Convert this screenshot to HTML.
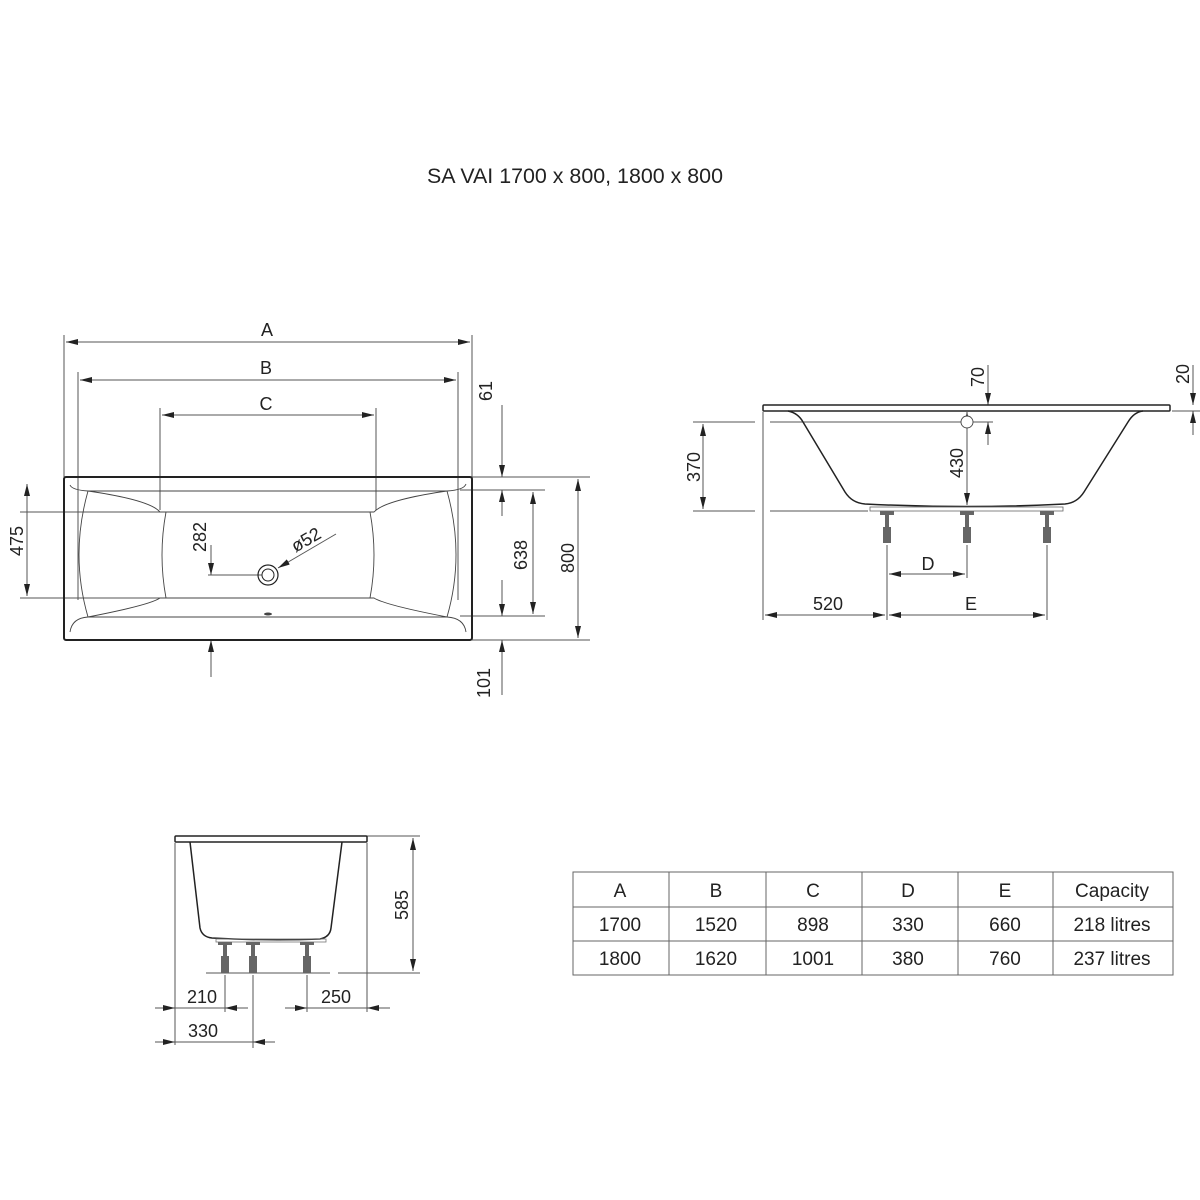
<!DOCTYPE html>
<html><head><meta charset="utf-8"><style>
html,body{margin:0;padding:0;background:#fff}
svg{display:block}
text{font-family:"Liberation Sans",sans-serif;fill:#222}
</style></head><body>
<svg width="1200" height="1200" viewBox="0 0 1200 1200" xmlns="http://www.w3.org/2000/svg">
<defs>
<marker id="a" viewBox="0 0 12 6" refX="12" refY="3" markerWidth="12" markerHeight="6" markerUnits="userSpaceOnUse" orient="auto"><path d="M0,0L12,3L0,6z" fill="#222"/></marker>
<marker id="s" viewBox="0 0 12 6" refX="0" refY="3" markerWidth="12" markerHeight="6" markerUnits="userSpaceOnUse" orient="auto"><path d="M12,0L0,3L12,6z" fill="#222"/></marker>
</defs>
<text x="575" y="183" font-size="21" text-anchor="middle" textLength="296" lengthAdjust="spacingAndGlyphs">SA VAI  1700 x 800, 1800 x 800</text>

<!-- PLAN VIEW -->
<g stroke="#555" stroke-width="1" fill="none">
<line x1="64" y1="335" x2="64" y2="477"/><line x1="472" y1="335" x2="472" y2="477"/>
<line x1="78" y1="372" x2="78" y2="600"/><line x1="458" y1="372" x2="458" y2="600"/>
<line x1="160" y1="408" x2="160" y2="510"/><line x1="376" y1="408" x2="376" y2="510"/>
<line x1="66" y1="342" x2="470" y2="342" marker-start="url(#s)" marker-end="url(#a)"/>
<line x1="80" y1="380" x2="456" y2="380" marker-start="url(#s)" marker-end="url(#a)"/>
<line x1="162" y1="415" x2="374" y2="415" marker-start="url(#s)" marker-end="url(#a)"/>
<line x1="20" y1="512" x2="160" y2="512"/><line x1="20" y1="598" x2="160" y2="598"/>
<line x1="27" y1="484" x2="27" y2="596" marker-start="url(#s)" marker-end="url(#a)"/>
<line x1="472" y1="477" x2="590" y2="477"/><line x1="472" y1="640" x2="590" y2="640"/>
<line x1="460" y1="490" x2="545" y2="490"/><line x1="460" y1="616" x2="545" y2="616"/>
<line x1="578" y1="479" x2="578" y2="638" marker-start="url(#s)" marker-end="url(#a)"/>
<line x1="533" y1="492" x2="533" y2="614" marker-start="url(#s)" marker-end="url(#a)"/>
<line x1="502" y1="405" x2="502" y2="477" marker-end="url(#a)"/>
<line x1="502" y1="516" x2="502" y2="490" marker-end="url(#a)"/>
<line x1="502" y1="580" x2="502" y2="616" marker-end="url(#a)"/>
<line x1="502" y1="695" x2="502" y2="640" marker-end="url(#a)"/>
<line x1="211" y1="545" x2="211" y2="575" marker-end="url(#a)"/>
<line x1="211" y1="677" x2="211" y2="640" marker-end="url(#a)"/>
<line x1="208" y1="575" x2="262" y2="575"/>
<line x1="336" y1="534" x2="278" y2="568" marker-end="url(#a)"/>
</g>
<g fill="none" stroke="#222">
<rect x="64" y="477" width="408" height="163" rx="2" stroke-width="2"/>
<g stroke-width="0.9" stroke="#444">
<path d="M70,485 Q72,490 88,491 L447,491 Q464,490 466,484"/>
<path d="M70,632 Q72,618 88,617 L447,617 Q464,618 466,632"/>
<path d="M88,491 Q150,500 160,512 L374,512 Q385,500 447,491"/>
<path d="M88,617 Q150,605 160,598 L374,598 Q385,605 447,617"/>
<path d="M88,491 Q70,555 88,617"/><path d="M447,491 Q465,555 447,617"/>
<path d="M166,512 Q158,555 166,598"/><path d="M370,512 Q378,555 370,598"/>
</g>
<circle cx="268" cy="575" r="10" stroke-width="1.2"/><circle cx="268" cy="575" r="6" stroke-width="1"/>
<ellipse cx="268" cy="614" rx="4" ry="1.5" fill="#444" stroke="none"/>
</g>
<g font-size="18" text-anchor="middle">
<text x="267" y="336">A</text><text x="266" y="374">B</text><text x="266" y="410">C</text>
<text transform="translate(23,541) rotate(-90)">475</text>
<text transform="translate(206,537) rotate(-90)">282</text>
<text transform="translate(309,545) rotate(-30)">ø52</text>
<text transform="translate(492,391) rotate(-90)">61</text>
<text transform="translate(527,555) rotate(-90)">638</text>
<text transform="translate(574,558) rotate(-90)">800</text>
<text transform="translate(490,683) rotate(-90)">101</text>
</g>

<!-- SIDE VIEW -->
<g stroke="#555" stroke-width="1" fill="none">
<line x1="763" y1="412" x2="763" y2="620"/>
<line x1="693" y1="422" x2="755" y2="422"/><line x1="770" y1="422" x2="993" y2="422"/>
<line x1="693" y1="511" x2="755" y2="511"/><line x1="770" y1="511" x2="868" y2="511"/>
<line x1="703" y1="424" x2="703" y2="509" marker-start="url(#s)" marker-end="url(#a)"/>
<line x1="967" y1="412" x2="967" y2="505" marker-start="url(#s)" marker-end="url(#a)"/>
<line x1="988" y1="365" x2="988" y2="405" marker-end="url(#a)"/>
<line x1="988" y1="445" x2="988" y2="422" marker-end="url(#a)"/>
<line x1="1172" y1="411" x2="1200" y2="411"/>
<line x1="1193" y1="365" x2="1193" y2="405" marker-end="url(#a)"/>
<line x1="1193" y1="435" x2="1193" y2="411" marker-end="url(#a)"/>
<line x1="887" y1="545" x2="887" y2="620"/><line x1="967" y1="545" x2="967" y2="578"/><line x1="1047" y1="545" x2="1047" y2="620"/>
<line x1="889" y1="574" x2="965" y2="574" marker-start="url(#s)" marker-end="url(#a)"/>
<line x1="765" y1="615" x2="885" y2="615" marker-start="url(#s)" marker-end="url(#a)"/>
<line x1="889" y1="615" x2="1045" y2="615" marker-start="url(#s)" marker-end="url(#a)"/>
</g>
<g fill="none" stroke="#222" stroke-width="1.5">
<rect x="763" y="405" width="407" height="6" rx="1"/>
<path d="M788,411 Q798,413 803,422 L845,492 Q852,503 865,504 Q967,509 1065,504 Q1077,503 1084,492 L1128,422 Q1134,412 1143,411"/>
<rect x="870" y="507" width="193" height="4" stroke-width="0.8" stroke="#666"/>
<circle cx="967" cy="422" r="6" stroke-width="0.9" stroke="#444" fill="#fff"/>
</g>
<g fill="#666">
<g transform="translate(887,0)"><rect x="-7" y="511" width="14" height="4"/><rect x="-2" y="515" width="4" height="12"/><rect x="-4" y="527" width="8" height="16"/></g>
<g transform="translate(967,0)"><rect x="-7" y="511" width="14" height="4"/><rect x="-2" y="515" width="4" height="12"/><rect x="-4" y="527" width="8" height="16"/></g>
<g transform="translate(1047,0)"><rect x="-7" y="511" width="14" height="4"/><rect x="-2" y="515" width="4" height="12"/><rect x="-4" y="527" width="8" height="16"/></g>
</g>
<g font-size="18" text-anchor="middle">
<text transform="translate(700,467) rotate(-90)">370</text>
<text transform="translate(963,463) rotate(-90)">430</text>
<text transform="translate(984,377) rotate(-90)">70</text>
<text transform="translate(1189,374) rotate(-90)">20</text>
<text x="928" y="570">D</text><text x="828" y="610">520</text><text x="971" y="610">E</text>
</g>

<!-- END VIEW -->
<g stroke="#555" stroke-width="1" fill="none">
<line x1="175" y1="843" x2="175" y2="1045"/><line x1="367" y1="843" x2="367" y2="1012"/>
<line x1="367" y1="836" x2="420" y2="836"/>
<line x1="206" y1="973" x2="330" y2="973"/><line x1="338" y1="973" x2="420" y2="973"/>
<line x1="413" y1="838" x2="413" y2="971" marker-start="url(#s)" marker-end="url(#a)"/>
<line x1="225" y1="975" x2="225" y2="1012"/><line x1="253" y1="975" x2="253" y2="1048"/><line x1="307" y1="975" x2="307" y2="1012"/>
<line x1="155" y1="1008" x2="175" y2="1008" marker-end="url(#a)"/>
<line x1="175" y1="1008" x2="225" y2="1008"/>
<line x1="248" y1="1008" x2="225" y2="1008" marker-end="url(#a)"/>
<line x1="285" y1="1008" x2="307" y2="1008" marker-end="url(#a)"/>
<line x1="307" y1="1008" x2="367" y2="1008"/>
<line x1="390" y1="1008" x2="367" y2="1008" marker-end="url(#a)"/>
<line x1="155" y1="1042" x2="175" y2="1042" marker-end="url(#a)"/>
<line x1="175" y1="1042" x2="253" y2="1042"/>
<line x1="275" y1="1042" x2="253" y2="1042" marker-end="url(#a)"/>
</g>
<g fill="none" stroke="#222" stroke-width="1.5">
<rect x="175" y="836" width="192" height="6" rx="1"/>
<path d="M190,842 L200,928 Q202,937 212,938 Q268,941 320,939 Q330,937 331,928 L342,842"/>
<rect x="216" y="939" width="110" height="3" stroke-width="0.8" stroke="#777"/>
</g>
<g fill="#666">
<g transform="translate(225,0)"><rect x="-7" y="942" width="14" height="3"/><rect x="-2" y="945" width="4" height="11"/><rect x="-4" y="956" width="8" height="17"/></g>
<g transform="translate(253,0)"><rect x="-7" y="942" width="14" height="3"/><rect x="-2" y="945" width="4" height="11"/><rect x="-4" y="956" width="8" height="17"/></g>
<g transform="translate(307,0)"><rect x="-7" y="942" width="14" height="3"/><rect x="-2" y="945" width="4" height="11"/><rect x="-4" y="956" width="8" height="17"/></g>
</g>
<g font-size="18" text-anchor="middle">
<text transform="translate(408,905) rotate(-90)">585</text>
<text x="202" y="1003">210</text><text x="336" y="1003">250</text><text x="203" y="1037">330</text>
</g>

<!-- TABLE -->
<g stroke="#666" stroke-width="1" fill="none">
<rect x="573" y="872" width="600" height="103"/>
<line x1="573" y1="907" x2="1173" y2="907"/><line x1="573" y1="941" x2="1173" y2="941"/>
<line x1="669" y1="872" x2="669" y2="975"/><line x1="766" y1="872" x2="766" y2="975"/>
<line x1="862" y1="872" x2="862" y2="975"/><line x1="958" y1="872" x2="958" y2="975"/>
<line x1="1053" y1="872" x2="1053" y2="975"/>
</g>
<g font-size="19" text-anchor="middle">
<text x="620" y="897">A</text><text x="716" y="897">B</text><text x="813" y="897">C</text><text x="908" y="897">D</text><text x="1005" y="897">E</text><text x="1112" y="897">Capacity</text>
<text x="620" y="931">1700</text><text x="716" y="931">1520</text><text x="813" y="931">898</text><text x="908" y="931">330</text><text x="1005" y="931">660</text><text x="1112" y="931">218 litres</text>
<text x="620" y="965">1800</text><text x="716" y="965">1620</text><text x="813" y="965">1001</text><text x="908" y="965">380</text><text x="1005" y="965">760</text><text x="1112" y="965">237 litres</text>
</g>
</svg>
</body></html>
